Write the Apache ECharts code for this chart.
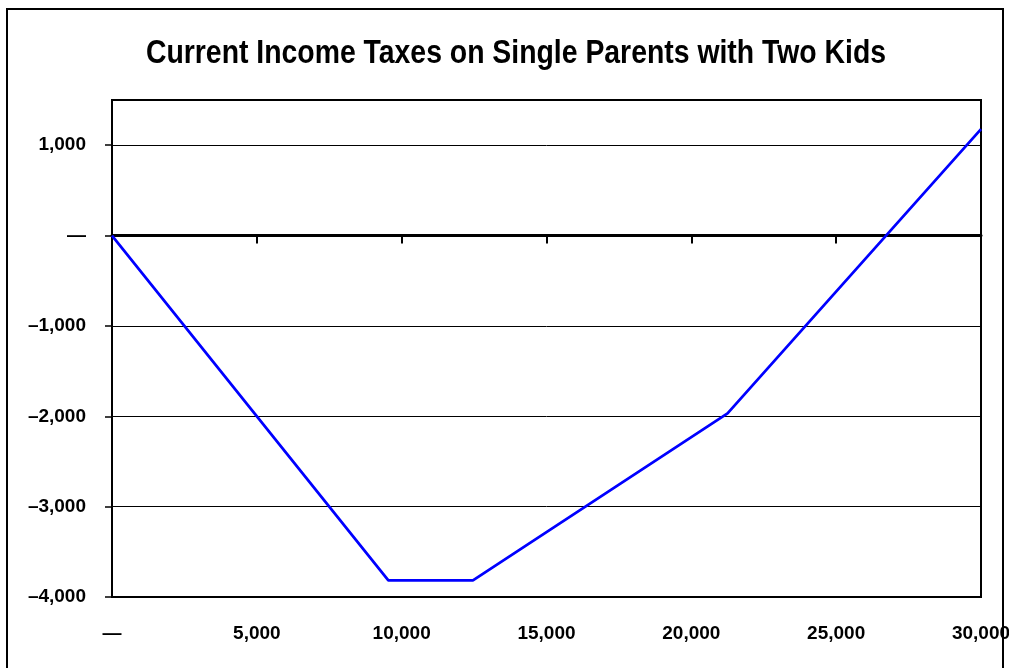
<!DOCTYPE html>
<html>
<head>
<meta charset="utf-8">
<script src="https://cdn.jsdelivr.net/npm/echarts@6/dist/echarts.min.js"></script>
<style>
  html, body { margin: 0; padding: 0; background: #fff; }
  #chart { width: 1009px; height: 668px; }
</style>
</head>
<body>
<div id="chart"></div>
<script>
// Income (dollars) at each kink of the schedule, and the income tax owed there
const incomes = [0, 9540, 12460, 21250, 30000];
const taxes = [0, -3816, -3816, -1968, 1177];
const xTicks = [0, 5000, 10000, 15000, 20000, 25000, 30000];
const yTicks = [-4000, -3000, -2000, -1000, 0, 1000];
const titleText = 'Current Income Taxes on Single Parents with Two Kids';

const FONT = '"Liberation Sans Narrow", "Arial Narrow", "Liberation Sans", Arial, sans-serif';

function fmt(v) {
  if (v === 0) return '\u2014';
  const s = Math.abs(v).toLocaleString('en-US');
  return v < 0 ? '\u2013' + s : s;
}

const chart = echarts.init(document.getElementById('chart'), null, { renderer: 'canvas' });

const labelStyle = { fontFamily: FONT, fontWeight: 'bold', fontSize: 19, color: '#000' };

chart.setOption({
  animation: false,
  backgroundColor: '#fff',
  graphic: [{
    // frame round the whole chart
    type: 'rect',
    shape: { x: 7, y: 9, width: 996, height: 680 },
    style: { fill: 'none', stroke: '#000', lineWidth: 2 },
    z: 10
  }, {
    // title, set in a condensed bold face
    type: 'text',
    x: 516, y: 54,
    scaleX: 0.86,
    style: {
      text: titleText,
      x: 0, y: 0,
      textAlign: 'center', textVerticalAlign: 'middle',
      fontFamily: FONT, fontWeight: 'bold', fontSize: 33, fill: '#000'
    },
    z: 10
  }],
  grid: {
    left: 112, right: 28, top: 100, bottom: 71,
    show: true, borderColor: '#000', borderWidth: 2,
    containLabel: false,
    outerBoundsMode: 'none'
  },
  xAxis: [{
    // labels along the bottom of the plot
    type: 'value', min: 0, max: 30000, interval: 5000,
    position: 'bottom',
    axisLine: { show: false, onZero: false },
    axisTick: { show: false },
    splitLine: { show: false },
    axisLabel: Object.assign({ margin: 27, formatter: fmt, showMaxLabel: true, showMinLabel: true,
      customValues: xTicks }, labelStyle)
  }, {
    // heavy zero line with its tick marks
    type: 'value', min: 0, max: 30000, interval: 5000,
    position: 'top',
    axisLine: { show: true, onZero: true, lineStyle: { color: '#000', width: 3 } },
    axisTick: { show: true, inside: true, length: 8, lineStyle: { color: '#000', width: 2 },
      customValues: xTicks },
    splitLine: { show: false },
    axisLabel: { show: false }
  }],
  yAxis: {
    type: 'value', min: -4000, max: 1500, interval: 1000,
    axisLine: { show: false },
    axisTick: { show: true, length: 7, lineStyle: { color: '#000', width: 1.5 }, customValues: yTicks },
    splitLine: { show: true, lineStyle: { color: '#000', width: 1 } },
    axisLabel: Object.assign({ margin: 26, formatter: fmt, customValues: yTicks }, labelStyle)
  },
  series: [{
    type: 'line',
    xAxisIndex: 0,
    data: incomes.map((x, i) => [x, taxes[i]]),
    showSymbol: false,
    lineStyle: { color: '#0000ff', width: 2.75 },
    z: 5
  }]
});
</script>
</body>
</html>
